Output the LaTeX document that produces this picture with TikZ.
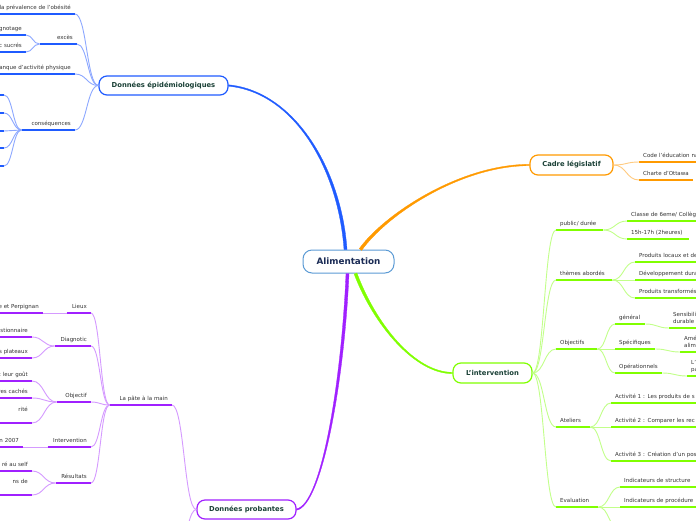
\documentclass[tikz,border=0pt]{standalone}
\usepackage{fontspec}
\setmainfont{DejaVu Sans}
\usetikzlibrary{calc}
\definecolor{cblue}{HTML}{1F5BFF}
\definecolor{lblue}{HTML}{8DA8FF}
\definecolor{corange}{HTML}{FF9A00}
\definecolor{lorange}{HTML}{FFCB80}
\definecolor{cgreen}{HTML}{80FF00}
\definecolor{lgreen}{HTML}{C2FF8A}
\definecolor{cpurple}{HTML}{A020FF}
\definecolor{lpurple}{HTML}{D59AFF}
\definecolor{cnavy}{HTML}{5B9BD5}
\definecolor{cnavytext}{HTML}{1A2B55}
\definecolor{ctext}{HTML}{1A4036}
\definecolor{stext}{HTML}{333333}
\newcommand\RAtx[1]{\hbox to\hsize{\hss#1}}
\newcommand\LAtx[1]{\hbox to\hsize{#1\hss}}
\begin{document}
\begin{tikzpicture}[x=1pt,y=-1pt,
  sc/.style={to path={let \p1=(\tikztostart), \p2=(\tikztotarget) in
     .. controls ({0.5*\x1+0.5*\x2},\y1) and ({0.5*\x1+0.5*\x2},\y2) .. (\tikztotarget)}},
  mainnode/.style={draw=cnavy, line width=1pt, fill=white, rounded corners=9pt,
     minimum width=91pt, minimum height=23pt, inner sep=0pt,
     font=\fontsize{8.8}{10}\selectfont\bfseries, text=cnavytext},
  sub/.style={draw=#1, line width=1.2pt, fill=white, rounded corners=8pt, inner sep=0pt,
     font=\fontsize{6.8}{8}\selectfont\bfseries, text=ctext},
  lbl/.style={font=\fontsize{5.5}{7.5}\selectfont, text=stext, inner xsep=4pt, inner ysep=3pt,
     text depth=1.2pt,
     append after command={(\tikzlastnode.south west) edge[draw=#1, line width=2pt] (\tikzlastnode.south east)}},
  two/.style={text depth=8.7pt},
  lt/.style={lbl=#1, anchor=south east},
  rt/.style={lbl=#1, anchor=south west},
  lk/.style={draw=#1, line width=0.9pt},
  mc/.style={fill=#1, draw=#1, line width=0.3pt}]
\useasboundingbox (0,0) rectangle (696,520);
\fill[white] (0,0) rectangle (696,520);
\clip (0,0) rectangle (696,520);

% main nodes
\node[mainnode] (alim) at (348.5,261.5) {Alimentation};
\node[sub=cblue, minimum width=129pt, minimum height=19pt] (epi) at (163.5,85.5) {Données épidémiologiques};
\node[sub=corange, minimum width=83pt, minimum height=20pt] (cadre) at (571.5,165) {Cadre législatif};
\node[sub=cgreen, minimum width=79pt, minimum height=20pt] (inter) at (492.5,373) {L'intervention};
\node[sub=cpurple, minimum width=99pt, minimum height=19pt] (prob) at (246.5,509.5) {Données probantes};

% main connectors (tapered)
\path[mc=cblue] ($(epi.east)+(0,-0.7)$) .. controls (295,91.3) and (341.6,170) .. ($(alim.north)+(-1.5,0)$)
   -- ($(alim.north)+(-4.5,0)$) .. controls (338.4,170) and (295,92.7) .. ($(epi.east)+(0,0.7)$) -- cycle;
\path[mc=corange] ($(alim.north)+(13.2,0.86)$) .. controls (386,215.7) and (460,165.7) .. ($(cadre.west)+(0,0.7)$)
   -- ($(cadre.west)+(0,-0.7)$) .. controls (460,164.3) and (384,214.3) .. ($(alim.north)+(10.8,-0.86)$) -- cycle;
\path[mc=cgreen] ($(alim.south)+(8.4,-0.53)$) .. controls (376.2,324.5) and (415,372.3) .. ($(inter.west)+(0,-0.7)$)
   -- ($(inter.west)+(0,0.7)$) .. controls (415,373.7) and (373.8,325.5) .. ($(alim.south)+(5.6,0.53)$) -- cycle;
\path[mc=cpurple] ($(alim.south)+(0.5,0)$) .. controls (344.5,380) and (322.3,505.7) .. ($(prob.east)+(0,0.7)$)
   -- ($(prob.east)+(0,-0.7)$) .. controls (321.7,504.3) and (341.5,380) .. ($(alim.south)+(-2.5,0)$) -- cycle;

% blue branch
\node[lt=cblue, text width=150pt] (b1) at (75,14) {\RAtx{la prévalence de l'obésité}};
\node[lt=cblue, text width=29pt] (b2) at (77,44) {\RAtx{excès}};
\node[lt=cblue, text width=150pt] (b21) at (26,35) {\RAtx{gnotage}};
\node[lt=cblue, text width=150pt] (b22) at (26,52) {\RAtx{c sucrés}};
\node[lt=cblue, text width=150pt] (b3) at (75,74) {\RAtx{anque d'activité physique}};
\node[lt=cblue, text width=45pt] (b4) at (75,130) {\RAtx{conséquences}};
\node[lt=cblue, text width=40pt] (b41) at (4,95) {};
\node[lt=cblue, text width=40pt] (b42) at (4,113) {};
\node[lt=cblue, text width=40pt] (b43) at (4,131) {};
\node[lt=cblue, text width=40pt] (b44) at (4,148) {};
\node[lt=cblue, text width=40pt] (b45) at (4,166) {};
\foreach \t in {b1,b2,b3,b4} \draw[lk=lblue] (epi.west) to[sc] (\t.south east);
\foreach \t in {b21,b22} \draw[lk=lblue] (b2.south west) to[sc] (\t.south east);
\foreach \t in {b41,b42,b43,b44,b45} \draw[lk=lblue] (b4.south west) to[sc] (\t.south east);

% orange branch
\node[rt=corange, text width=100pt] (o1) at (639,162) {\LAtx{Code l'éducation na}};
\node[rt=corange, text width=46pt] (o2) at (639,180) {\LAtx{Charte d'Ottawa}};
\foreach \t in {o1,o2} \draw[lk=lorange] (cadre.east) to[sc] (\t.south west);

% purple branch
\node[lt=cpurple, text width=54pt] (pm) at (172,405) {\RAtx{La pâte à la main}};
\coordinate (probx) at (170,600);
\draw[lk=lpurple] (prob.west) to[sc] (pm.south east);
\draw[lk=lpurple] (prob.west) to[sc] (probx);
\node[lt=cpurple, text width=16pt] (lieux) at (91,313) {\RAtx{Lieux}};
\node[lt=cpurple, text width=150pt] (lieux1) at (43,313) {\RAtx{e et Perpignan}};
\node[lt=cpurple, text width=28pt] (diag) at (91,346) {\RAtx{Diagnotic}};
\node[lt=cpurple, text width=150pt] (diag1) at (32,337) {\RAtx{stionnaire}};
\node[lt=cpurple, text width=150pt] (diag2) at (32,358) {\RAtx{s plateaux}};
\node[lt=cpurple, text width=26pt] (obj) at (91,402) {\RAtx{Objectif}};
\node[lt=cpurple, text width=150pt] (obj1) at (32,381) {\RAtx{c leur goût}};
\node[lt=cpurple, text width=150pt] (obj2) at (32,398) {\RAtx{res cachés}};
\node[lt=cpurple, two, text width=150pt, align=right] (obj3) at (32,423) {rité\\\mbox{}};
\node[lt=cpurple, text width=35pt] (intv) at (91,447) {\RAtx{Intervention}};
\node[lt=cpurple, text width=150pt] (intv1) at (23,447) {\RAtx{n 2007}};
\node[lt=cpurple, text width=27pt] (res) at (91,483) {\RAtx{Résultats}};
\node[lt=cpurple, text width=150pt] (res1) at (32,471) {\RAtx{ré au self}};
\node[lt=cpurple, two, text width=150pt, align=right] (res2) at (32,495) {ns de\\\mbox{}};
\foreach \t in {lieux,diag,obj,intv,res} \draw[lk=lpurple] (pm.south west) to[sc] (\t.south east);
\draw[lk=lpurple] (lieux.south west) to[sc] (lieux1.south east);
\foreach \t in {diag1,diag2} \draw[lk=lpurple] (diag.south west) to[sc] (\t.south east);
\foreach \t in {obj1,obj2,obj3} \draw[lk=lpurple] (obj.south west) to[sc] (\t.south east);
\draw[lk=lpurple] (intv.south west) to[sc] (intv1.south east);
\foreach \t in {res1,res2} \draw[lk=lpurple] (res.south west) to[sc] (\t.south east);

% green branch
\node[rt=cgreen, text width=39pt] (g1) at (556,230) {\LAtx{public/ durée}};
\node[rt=cgreen, text width=100pt] (g11) at (627,221) {\LAtx{Classe de 6eme/ Collège}};
\node[rt=cgreen, text width=54pt] (g12) at (627,239) {\LAtx{15h-17h (2heures)}};
\node[rt=cgreen, text width=48pt] (g2) at (556,280) {\LAtx{thèmes abordés}};
\node[rt=cgreen, text width=100pt] (g21) at (635,262) {\LAtx{Produits locaux et de}};
\node[rt=cgreen, text width=100pt] (g22) at (635,280) {\LAtx{Développement durab}};
\node[rt=cgreen, text width=100pt] (g23) at (635,298) {\LAtx{Produits transformés}};
\node[rt=cgreen, text width=33pt] (g3) at (556,349) {\LAtx{Objectifs}};
\node[rt=cgreen, text width=22pt] (g31) at (615,324) {\LAtx{général}};
\node[rt=cgreen, two, text width=100pt, align=left] (g311) at (669,328) {Sensibili\\durable};
\node[rt=cgreen, text width=32pt] (g32) at (615,349) {\LAtx{Spécifiques}};
\node[rt=cgreen, two, text width=100pt, align=left] (g321) at (680,352) {Amé\\alim};
\node[rt=cgreen, text width=39pt] (g33) at (615,373) {\LAtx{Opérationnels}};
\node[rt=cgreen, two, text width=100pt, align=left] (g331) at (687,376) {L'\\pa};
\node[rt=cgreen, text width=26pt] (g4) at (556,427) {\LAtx{Ateliers}};
\node[rt=cgreen, text width=100pt] (g41) at (611,403) {\LAtx{Activité 1 : Les produits de s}};
\node[rt=cgreen, text width=100pt] (g42) at (611,427) {\LAtx{Activité 2 : Comparer les rec}};
\node[rt=cgreen, text width=100pt] (g43) at (611,461) {\LAtx{Activité 3 : Création d'un pos}};
\node[rt=cgreen, text width=34pt] (g5) at (556,507) {\LAtx{Evaluation}};
\node[rt=cgreen, text width=100pt] (g51) at (620,487) {\LAtx{Indicateurs de structure}};
\node[rt=cgreen, text width=100pt] (g52) at (620,507) {\LAtx{Indicateurs de procédure}};
\coordinate (g53) at (620,530);
\foreach \t in {g1,g2,g3,g4,g5} \draw[lk=lgreen] (inter.east) to[sc] (\t.south west);
\foreach \t in {g11,g12} \draw[lk=lgreen] (g1.south east) to[sc] (\t.south west);
\foreach \t in {g21,g22,g23} \draw[lk=lgreen] (g2.south east) to[sc] (\t.south west);
\foreach \t in {g31,g32,g33} \draw[lk=lgreen] (g3.south east) to[sc] (\t.south west);
\draw[lk=lgreen] (g31.south east) to[sc] (g311.south west);
\draw[lk=lgreen] (g32.south east) to[sc] (g321.south west);
\draw[lk=lgreen] (g33.south east) to[sc] (g331.south west);
\foreach \t in {g41,g42,g43} \draw[lk=lgreen] (g4.south east) to[sc] (\t.south west);
\draw[lk=lgreen] (g5.south east) to[sc] (g51.south west);
\draw[lk=lgreen] (g5.south east) to[sc] (g52.south west);
\draw[lk=lgreen] (g5.south east) to[sc] (g53);
\end{tikzpicture}
\end{document}
